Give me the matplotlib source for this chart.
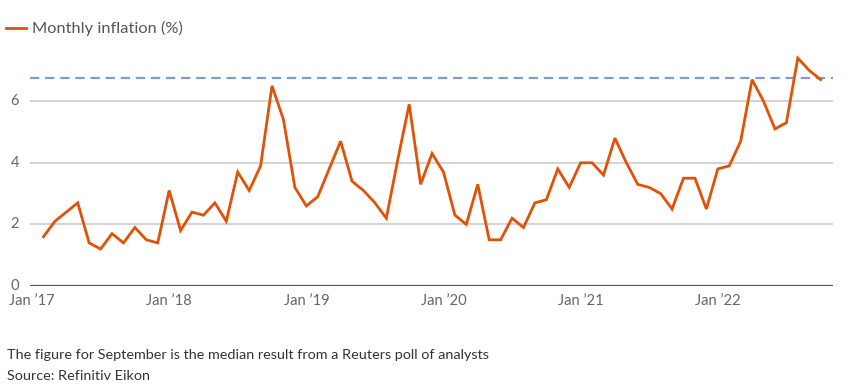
import matplotlib
matplotlib.use("Agg")
import matplotlib.pyplot as plt
from matplotlib.lines import Line2D

# Monthly inflation (%), Jan 2017 - Sep 2022
inflation = [
    1.6, 2.1, 2.4, 2.7, 1.4, 1.2, 1.7, 1.4, 1.9, 1.5, 1.4, 3.1,   # 2017
    1.8, 2.4, 2.3, 2.7, 2.1, 3.7, 3.1, 3.9, 6.5, 5.4, 3.2, 2.6,   # 2018
    2.9, 3.8, 4.7, 3.4, 3.1, 2.7, 2.2, 4.1, 5.9, 3.3, 4.3, 3.7,   # 2019
    2.3, 2.0, 3.3, 1.5, 1.5, 2.2, 1.9, 2.7, 2.8, 3.8, 3.2, 4.0,   # 2020
    4.0, 3.6, 4.8, 4.0, 3.3, 3.2, 3.0, 2.5, 3.5, 3.5, 2.5, 3.8,   # 2021
    3.9, 4.7, 6.7, 6.0, 5.1, 5.3, 7.4, 7.0, 6.7,                 # 2022
]
reference_level = 6.75
tick_labels = ["Jan \u201917", "Jan \u201918", "Jan \u201919", "Jan \u201920", "Jan \u201921", "Jan \u201922"]
y_ticks = [0, 2, 4, 6]
legend_label = "Monthly inflation (%)"
note = "The figure for September is the median result from a Reuters poll of analysts"
source = "Source: Refinitiv Eikon"

plt.rcParams['font.family'] = ['Lato', 'DejaVu Sans']

W, H = 852, 392
fig = plt.figure(figsize=(W / 100, H / 100), dpi=100)

left_px, right_px = 30, 833
bottom_px = 286
ymax = 7.6
px_per_unit = 30.8
ax = fig.add_axes([left_px / W, (H - bottom_px) / H,
                   (right_px - left_px) / W, ymax * px_per_unit / H])

# points plotted at month end (month index i -> x = i + 1, Jan 1 2017 = 0)
xs = [i + 1 for i in range(len(inflation))]

for y in y_ticks[1:]:
    ax.axhline(y, color="#d0d0d0", lw=1.3, zorder=1)
ax.axhline(0, color="#555555", lw=1.6, zorder=2)
ax.axhline(reference_level, color="#7f9dc6", lw=1.6, dashes=(4.2, 2.6), zorder=2)
ax.plot(xs, inflation, color="#e05206", lw=2.0, solid_joinstyle="miter", zorder=3)

ax.set_xlim(-0.175, 70.08)
ax.set_ylim(0, ymax)
ax.set_xticks([12 * k for k in range(len(tick_labels))])
ax.set_xticklabels(tick_labels)
ax.set_yticks(y_ticks)
ax.set_yticklabels([str(v) for v in y_ticks])
ax.tick_params(axis="both", length=0, labelsize=10.6, labelcolor="#666666")
ax.tick_params(axis="y", pad=8)
ax.tick_params(axis="x", pad=5.5)
for lbl in ax.get_yticklabels():
    lbl.set_verticalalignment("center")
ax.get_yticklabels()[0].set_y(0.1)
for s in ax.spines.values():
    s.set_visible(False)
ax.patch.set_visible(False)

# legend
fig.add_artist(Line2D([6 / W, 26 / W], [1 - 28 / H, 1 - 28 / H],
                      color="#e05206", lw=2.0, transform=fig.transFigure))
fig.text(32 / W, 1 - 28.5 / H, legend_label, fontsize=11.8, color="#555555",
         va="center", ha="left")

fig.text(7 / W, 1 - 355 / H, note, fontsize=10.4, color="#333333", va="center", ha="left")
fig.text(7 / W, 1 - 376 / H, source, fontsize=10.4, color="#333333", va="center", ha="left")

fig.savefig("out.png", dpi=100, facecolor="white")
